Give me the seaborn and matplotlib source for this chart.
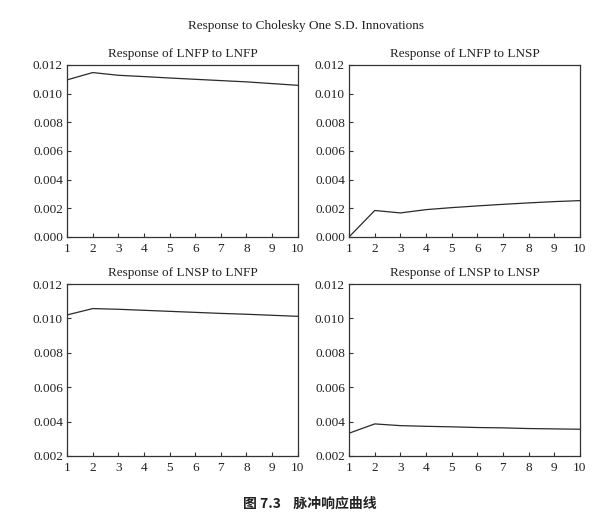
import pandas as pd
import seaborn as sns
from matplotlib import pyplot as plt

periods = list(range(1, 11))

lnfp_to_lnfp = [0.01096, 0.01147, 0.01128, 0.01119, 0.01109, 0.01100, 0.01091, 0.01082, 0.01070, 0.01058]
lnfp_to_lnsp = [0.00000, 0.00184, 0.00167, 0.00190, 0.00204, 0.00216, 0.00227, 0.00237, 0.00246, 0.00253]
lnsp_to_lnfp = [0.01020, 0.01057, 0.01053, 0.01047, 0.01041, 0.01035, 0.01029, 0.01024, 0.01018, 0.01012]
lnsp_to_lnsp = [0.00332, 0.00386, 0.00376, 0.00372, 0.00369, 0.00365, 0.00363, 0.00359, 0.00357, 0.00355]

titles = ['Response of LNFP to LNFP', 'Response of LNFP to LNSP',
          'Response of LNSP to LNFP', 'Response of LNSP to LNSP']
series = [lnfp_to_lnfp, lnfp_to_lnsp, lnsp_to_lnfp, lnsp_to_lnsp]
y_ranges = [(0.0, 0.012), (0.0, 0.012), (0.002, 0.012), (0.002, 0.012)]
y_ticks = [[0.000, 0.002, 0.004, 0.006, 0.008, 0.010, 0.012]] * 2 + \
          [[0.002, 0.004, 0.006, 0.008, 0.010, 0.012]] * 2

sns.set_style('ticks')
plt.rcParams['font.family'] = ['Liberation Serif', 'Noto Sans CJK SC', 'DejaVu Sans']
plt.rcParams['xtick.direction'] = 'in'
plt.rcParams['ytick.direction'] = 'in'

fig = plt.figure(figsize=(6.04, 5.24), dpi=100)
boxes = [(0.111, 0.548), (0.578, 0.548), (0.111, 0.130), (0.578, 0.130)]

for i, (left, bottom) in enumerate(boxes):
    ax = fig.add_axes([left, bottom, 0.382, 0.328])
    df = pd.DataFrame({'period': periods, 'response': series[i]})
    sns.lineplot(data=df, x='period', y='response', ax=ax, color='#2a2a2a', linewidth=0.9)
    ax.set_xlim(1, 10)
    ax.set_ylim(*y_ranges[i])
    ax.set_xticks(periods)
    ax.set_yticks(y_ticks[i])
    ax.set_yticklabels(['{:.3f}'.format(v) for v in y_ticks[i]])
    ax.tick_params(labelsize=9.5, length=3, width=0.8, colors='#333333', labelcolor='#222222')
    ax.tick_params(axis='x', pad=4.5)
    ax.tick_params(axis='y', pad=3)
    for sp in ax.spines.values():
        sp.set_color('#333333')
        sp.set_linewidth(0.9)
    ax.set_xlabel('')
    ax.set_ylabel('')
    ax.set_title(titles[i], fontsize=9.5, pad=6, color='#222222')

fig.text(0.507, 0.950, 'Response to Cholesky One S.D. Innovations',
         ha='center', va='center', fontsize=9.5, color='#222222')
fig.text(0.513, 0.038, '图 7.3    脉冲响应曲线', ha='center', va='center',
         fontsize=10, fontweight='bold', color='#222222',
         family=['Noto Sans CJK SC', 'DejaVu Sans'])

fig.savefig('out.png', dpi=100, facecolor='white')
